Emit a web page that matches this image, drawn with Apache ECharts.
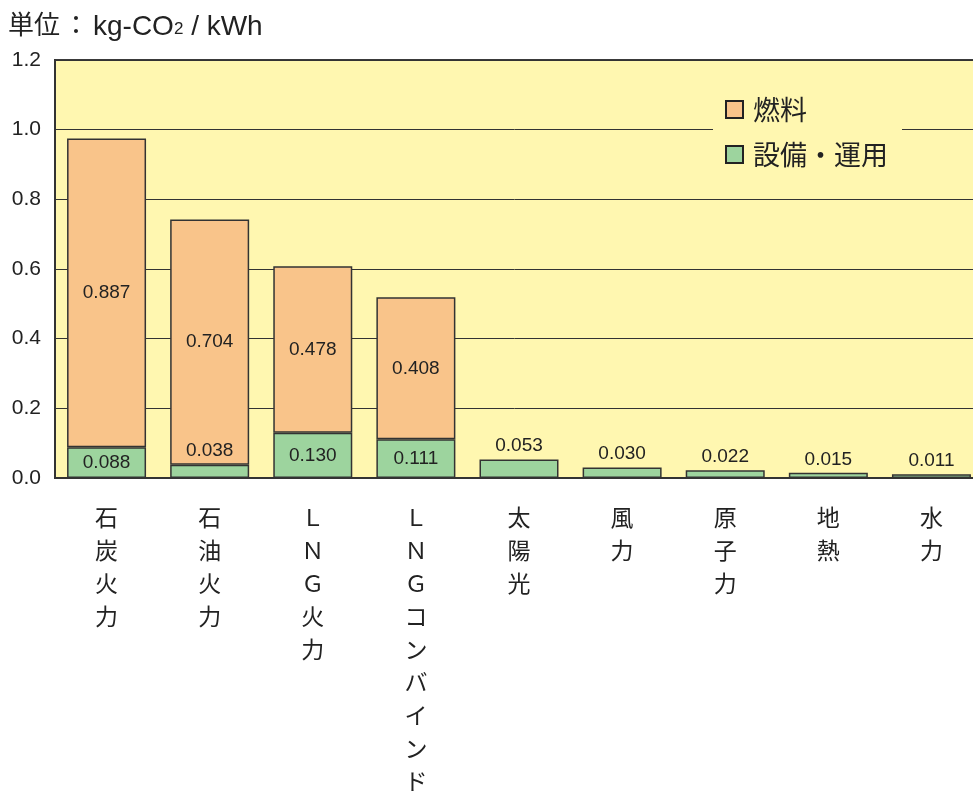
<!DOCTYPE html>
<html>
<head>
<meta charset="utf-8">
<script src="https://cdn.jsdelivr.net/npm/echarts@6/dist/echarts.min.js"></script>
<style>
  html, body { margin: 0; padding: 0; background: #ffffff; }
  #chart { width: 973px; height: 793px; }
</style>
</head>
<body>
<div id="chart"></div>
<script>
// 電源別ライフサイクルCO2排出量（単位：kg-CO2 / kWh）
const categories = ['石炭火力', '石油火力', 'ＬＮＧ火力', 'ＬＮＧコンバインド', '太陽光', '風力', '原子力', '地熱', '水力'];
const fuel = [0.887, 0.704, 0.478, 0.408, null, null, null, null, null];
const facility = [0.088, 0.038, 0.130, 0.111, 0.053, 0.030, 0.022, 0.015, 0.011];
const seriesNames = ['燃料', '設備・運用'];
const yTicks = [0, 0.2, 0.4, 0.6, 0.8, 1.0, 1.2];

const LATIN = '"Liberation Sans", Arial, "Noto Sans CJK JP", sans-serif';
const CJK = '"Noto Sans CJK JP", "Liberation Sans", sans-serif';
const INK = '#222222';
const LINE = '#333333';
const PLOT_BG = '#FFF7B0';
const ORANGE = '#F9C48A';
const GREEN = '#9DD49E';

const chart = echarts.init(document.getElementById('chart'), null, { renderer: 'canvas' });

const valueLabel = {
  show: true,
  color: INK,
  fontFamily: LATIN,
  fontSize: 19,
  formatter: p => (p.value == null ? '' : Number(p.value).toFixed(3))
};

chart.setOption({
  animation: false,
  backgroundColor: '#ffffff',
  title: {
    left: 3,
    top: 4,
    text: '{c|単位}{k|：}{a|kg-CO}{s|2}{a| / kWh}',
    textStyle: {
      fontWeight: 'normal',
      rich: {
        c: { fontFamily: CJK, fontSize: 26, fontWeight: 'normal', color: INK, lineHeight: 32, verticalAlign: 'bottom', padding: [0, 0, 4, 0] },
        k: { fontFamily: CJK, fontSize: 26, fontWeight: 'normal', color: INK, lineHeight: 32, verticalAlign: 'bottom', padding: [0, 4, 4, 3] },
        a: { fontFamily: LATIN, fontSize: 28, fontWeight: 'normal', color: INK, lineHeight: 32, verticalAlign: 'bottom' },
        s: { fontFamily: LATIN, fontSize: 17, fontWeight: 'normal', color: INK, lineHeight: 32, verticalAlign: 'bottom', padding: [0, 0, 3, 0] }
      }
    }
  },
  legend: {
    orient: 'vertical',
    left: 713,
    top: 92,
    padding: [4, 14, 4, 12],
    backgroundColor: PLOT_BG,
    data: seriesNames,
    icon: 'rect',
    itemWidth: 17,
    itemHeight: 17,
    itemGap: 18,
    itemStyle: { borderColor: INK, borderWidth: 2 },
    textStyle: { fontFamily: CJK, fontSize: 27, color: INK, lineHeight: 26, padding: [0, 0, 0, 5] }
  },
  grid: {
    left: 55,
    top: 60,
    width: 928,
    height: 418,
    outerBoundsMode: 'none',
    containLabel: false,
    show: true,
    backgroundColor: PLOT_BG,
    borderColor: '#3a3a3a',
    borderWidth: 2
  },
  xAxis: {
    type: 'category',
    data: categories,
    axisTick: { show: false },
    axisLine: { show: true, lineStyle: { color: LINE, width: 2 } },
    axisLabel: {
      interval: 0,
      margin: 23,
      color: INK,
      fontFamily: CJK,
      fontSize: 23,
      lineHeight: 33,
      formatter: v => v.split('').join('\n')
    }
  },
  yAxis: {
    type: 'value',
    min: 0,
    max: yTicks[yTicks.length - 1],
    interval: 0.2,
    axisLine: { show: true, lineStyle: { color: LINE, width: 2 } },
    axisTick: { show: false },
    splitLine: { show: true, lineStyle: { color: LINE, width: 1 } },
    axisLabel: {
      margin: 14,
      color: INK,
      fontFamily: LATIN,
      fontSize: 21,
      verticalAlign: 'middle',
      padding: [3, 0, 0, 0],
      formatter: v => v.toFixed(1)
    }
  },
  series: [
    {
      name: seriesNames[1],
      type: 'bar',
      stack: 'total',
      barWidth: 79,
      data: facility.map(v => ({
        value: v,
        label: { position: v >= 0.08 ? 'inside' : 'top', distance: 4 }
      })),
      itemStyle: { color: GREEN, borderColor: LINE, borderWidth: 1.5 },
      label: valueLabel,
      z: 3
    },
    {
      name: seriesNames[0],
      type: 'bar',
      stack: 'total',
      barWidth: 79,
      data: fuel,
      itemStyle: { color: ORANGE, borderColor: LINE, borderWidth: 1.5 },
      label: Object.assign({}, valueLabel, { position: 'inside' }),
      z: 2
    }
  ]
});
</script>
</body>
</html>
